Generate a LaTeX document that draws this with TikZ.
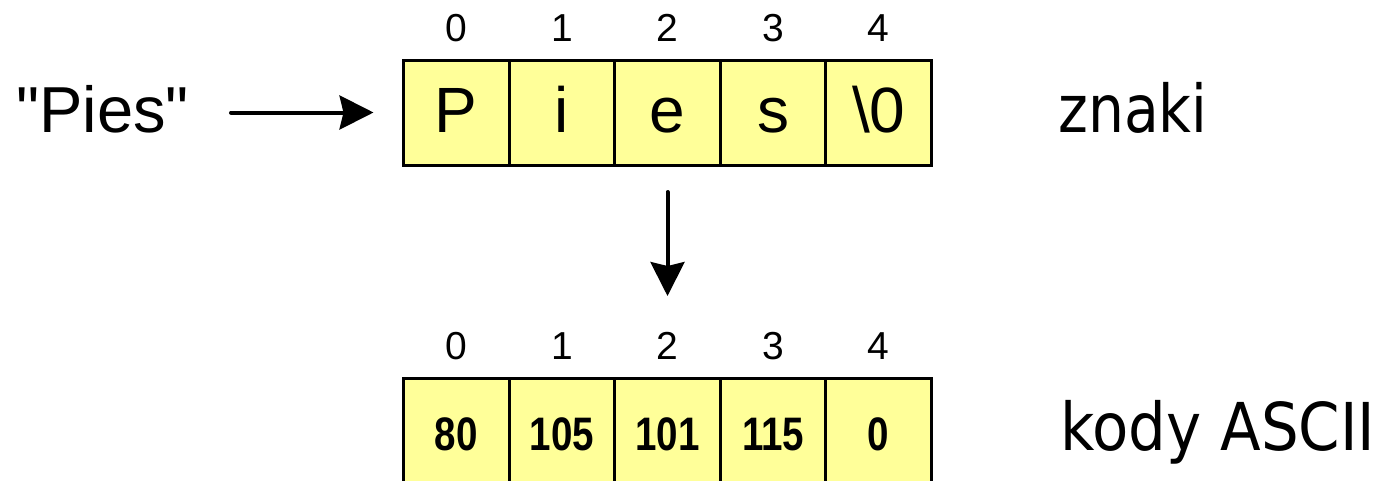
\documentclass[tikz,border=0pt]{standalone}
\usepackage{fontspec}
\setmainfont{Liberation Sans}[Ligatures=TeXOff]
\newfontfamily\tahomaA[FakeStretch=0.86]{DejaVu Sans}
\newfontfamily\tahomaB[FakeStretch=0.9]{DejaVu Sans}
\newfontfamily\narrowbold[FakeStretch=0.82]{Liberation Sans Bold}
\usetikzlibrary{arrows.meta}
\definecolor{cellyellow}{RGB}{255,255,153}
\tikzset{
  cell/.style={draw=black, fill=cellyellow, line width=3pt, minimum width=105.6pt,
    minimum height=105pt, inner sep=0pt, outer sep=0pt, text height=39pt, text depth=0pt},
  chartxt/.style={font=\fontsize{64}{70}\selectfont},
  numtxt/.style={font=\narrowbold\fontsize{47}{52}\selectfont},
  idx/.style={font=\fontsize{39}{44}\selectfont, anchor=base, inner sep=0pt},
  arr/.style={line width=4pt, line cap=round, -{Stealth[length=34pt,width=34pt,inset=4pt]}},
}
\begin{document}
\begin{tikzpicture}[x=1pt,y=-1pt]
\clip (0,0) rectangle (1383,480);
\fill[white] (0,0) rectangle (1383,480);
% top row
\foreach \i/\t in {0/P,1/i,2/e,3/s,4/\textbackslash 0}{
  \node[cell, chartxt] (c\i) at ({403.5+105.6*(\i+0.5)},112.5) {\t};
  \node[idx] (ti\i) at ({403.5+105.6*(\i+0.5)},41) {\i};
}
% bottom row
\foreach \i/\t in {0/80,1/105,2/101,3/115,4/0}{
  \node[cell, numtxt] (b\i) at ({403.5+105.6*(\i+0.5)},430.5) {\t};
  \node[idx] (bi\i) at ({403.5+105.6*(\i+0.5)},359) {\i};
}
\node[anchor=base, inner sep=0pt, font=\fontsize{65}{70}\selectfont] (pies) at (102.5,132) {"Pies"};
\node[anchor=base west, inner sep=0pt, font=\tahomaA\fontsize{66}{72}\selectfont] (znaki) at (1058,132) {znaki};
\node[anchor=base west, inner sep=0pt, font=\tahomaB\fontsize{66}{72}\selectfont] (kody) at (1060,450) {kody ASCII};
\draw[arr, shorten <=42pt, shorten >=30pt] (pies.east |- c0.west) -- (c0.west);
\draw[arr, shorten <=27pt, shorten >=82pt] (c2.south) -- (b2.north);
\end{tikzpicture}
\end{document}
